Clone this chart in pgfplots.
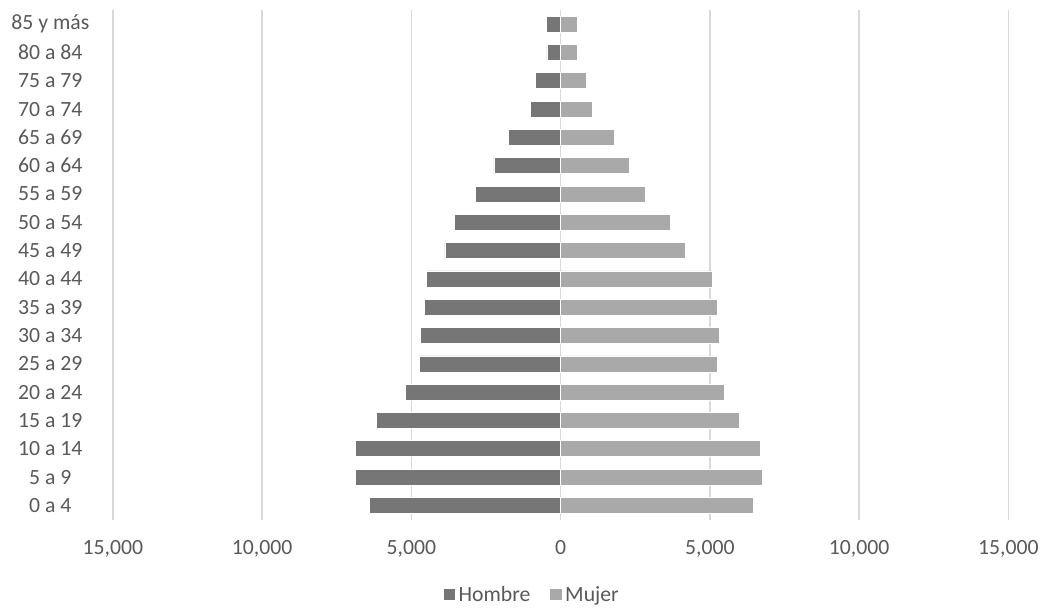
\documentclass[border=0pt]{standalone}
\usepackage{pgfplots}
\pgfplotsset{compat=1.18}
\usepackage{fontspec}
\setmainfont{Carlito}
\definecolor{hombre}{HTML}{767676}
\definecolor{mujer}{HTML}{A9A9A9}
\definecolor{gridc}{HTML}{D9D9D9}
\definecolor{txt}{HTML}{595959}
\begin{document}
\begin{tikzpicture}
\begin{axis}[
  name=ax,
  scale only axis,
  width=672pt, height=382.5pt,
  xbar, bar width=12pt, bar shift=0pt,
  xmin=-15000, xmax=15000,
  ymin=-0.5, ymax=17.5,
  scaled x ticks=false,
  axis line style={draw=none},
  major tick length=0pt,
  xtick={-15000,-10000,-5000,0,5000,10000,15000},
  xticklabels={{15,000},{10,000},{5,000},0,{5,000},{10,000},{15,000}},
  ytick={0,...,17},
  yticklabels={0 a 4,5 a 9,10 a 14,15 a 19,20 a 24,25 a 29,30 a 34,35 a 39,40 a 44,45 a 49,50 a 54,55 a 59,60 a 64,65 a 69,70 a 74,75 a 79,80 a 84,85 y más},
  xmajorgrids, grid style={gridc, line width=1.1pt},
  ymajorgrids=false,
  tick label style={font=\fontsize{16.3}{19}\selectfont, text=txt},
  xticklabel style={yshift=-12pt},
  yticklabel style={anchor=center, xshift=-47pt},
  legend style={at={(0.468,-0.147)}, anchor=center, draw=none, legend columns=2,
    font=\fontsize{16.3}{19}\selectfont, text=txt,
    /tikz/every even column/.append style={column sep=12pt}},
  legend image code/.code={\fill[#1] (0pt,-4.5pt) rectangle (9.5pt,4.5pt);},
]
\addplot[fill=hombre, draw=white, line width=0.6pt] coordinates {
(-6408,0) (-6866,1) (-6866,2) (-6173,3) (-5191,4) (-4733,5) (-4689,6) (-4555,7) (-4488,8)
(-3875,9) (-3560,10) (-2857,11) (-2235,12) (-1740,13) (-1015,14) (-840,15) (-460,16) (-480,17)};
\addlegendentry{Hombre}
\addplot[fill=mujer, draw=white, line width=0.6pt] coordinates {
(6455,0) (6755,1) (6700,2) (6005,3) (5482,4) (5247,5) (5325,6) (5247,7) (5080,8)
(4186,9) (3673,10) (2835,11) (2300,12) (1810,13) (1080,14) (850,15) (560,16) (560,17)};
\addlegendentry{Mujer}
\end{axis}
\path (ax.south west) ++(-84.75pt,-63pt) coordinate (bl);
\path (ax.north east) ++(25.5pt,7.5pt) coordinate (tr);
\path (bl) rectangle (tr);
\end{tikzpicture}
\end{document}
